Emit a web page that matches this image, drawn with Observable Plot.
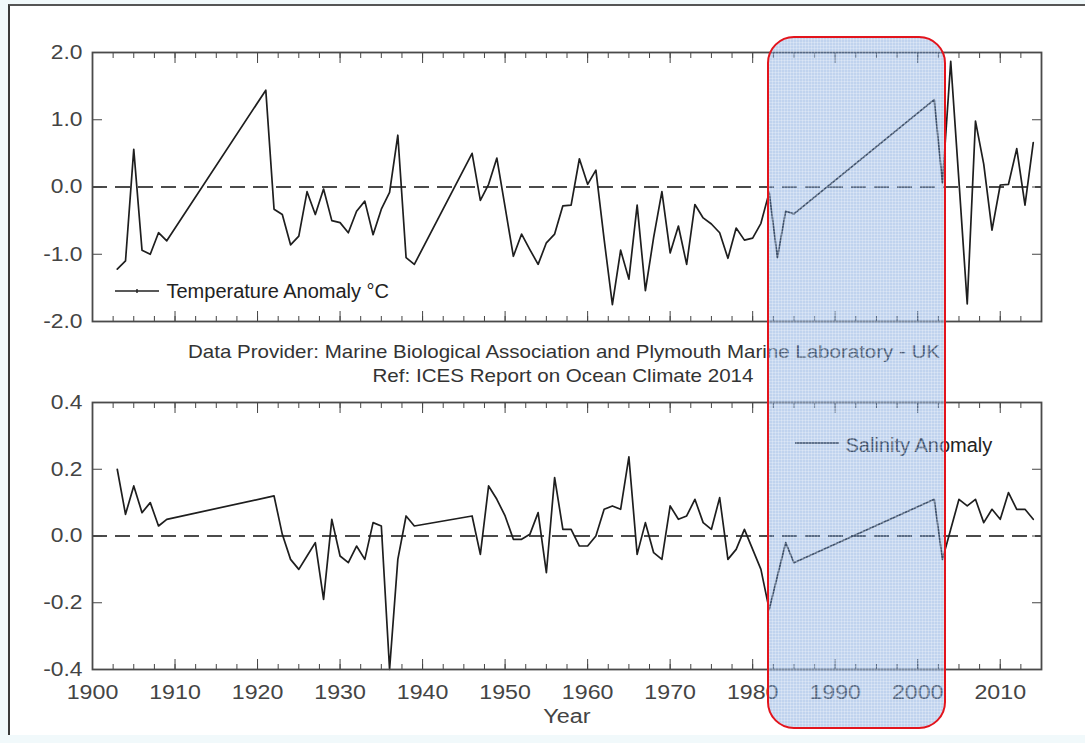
<!DOCTYPE html>
<html><head><meta charset="utf-8">
<script src="https://cdn.jsdelivr.net/npm/d3@7"></script>
<script src="https://cdn.jsdelivr.net/npm/@observablehq/plot@0.6"></script>
<style>
html,body{margin:0;padding:0;width:1085px;height:743px;overflow:hidden;background:#f1f9fb;font-family:"Liberation Sans",Arial,Helvetica,sans-serif;}
#page{position:absolute;left:8px;top:4px;width:1077px;height:729px;background:#fff;border-left:2px solid #3a3a3a;border-top:2px solid #555;}
.abs{position:absolute;left:0;}
#topChart{top:30px;}
#botChart{top:380px;}
#titles{position:absolute;left:0;top:330px;}
#hl{position:absolute;top:36px;height:689px;border:2px solid #e3141c;border-radius:27px;
  background-color:rgba(105,150,215,0.42);
  background-image:repeating-linear-gradient(0deg,rgba(255,255,255,0.25) 0 1px,transparent 1px 3px),repeating-linear-gradient(90deg,rgba(255,255,255,0.25) 0 1px,transparent 1px 3px);
  pointer-events:none;z-index:5;}
</style>
</head><body>
<div id="page"></div>
<div id="topChart" class="abs"></div>
<svg id="titles" width="1085" height="60"></svg>
<div id="botChart" class="abs"></div>
<div id="hl"></div>
<script>
// ---------- data ----------
const tempYears = [1903,1904,1905,1906,1907,1908,1909,
  1921,1922,1923,1924,1925,1926,1927,1928,1929,1930,1931,1932,1933,1934,1935,1936,1937,1938,1939,
  1946,1947,1948,1949,1950,1951,1952,1953,1954,1955,1956,1957,1958,1959,1960,1961,1962,1963,1964,1965,
  1966,1967,1968,1969,1970,1971,1972,1973,1974,1975,1976,1977,1978,1979,1980,1981,1982,1983,1984,1985,
  2002,2003,2004,2005,2006,2007,2008,2009,2010,2011,2012,2013,2014];
const tempValues = [-1.22,-1.10,0.56,-0.94,-1.00,-0.68,-0.80,
  1.44,-0.33,-0.41,-0.86,-0.73,-0.07,-0.41,-0.03,-0.50,-0.53,-0.68,-0.36,-0.21,-0.71,-0.33,-0.08,0.77,-1.05,-1.15,
  0.50,-0.20,0.04,0.43,-0.30,-1.03,-0.70,-0.93,-1.15,-0.83,-0.70,-0.28,-0.27,0.42,0.04,0.25,-0.78,-1.75,-0.94,-1.37,
  -0.27,-1.54,-0.75,-0.07,-0.98,-0.58,-1.15,-0.26,-0.46,-0.55,-0.68,-1.06,-0.61,-0.79,-0.76,-0.54,-0.08,-1.05,-0.36,-0.40,
  1.30,0.06,1.87,0.08,-1.74,0.98,0.34,-0.64,0.03,0.04,0.57,-0.27,0.66];

const salYears = [1903,1904,1905,1906,1907,1908,1909,
  1922,1923,1924,1925,1926,1927,1928,1929,1930,1931,1932,1933,1934,1935,1936,1937,1938,1939,
  1946,1947,1948,1949,1950,1951,1952,1953,1954,1955,1956,1957,1958,1959,1960,1961,1962,1963,1964,1965,
  1966,1967,1968,1969,1970,1971,1972,1973,1974,1975,1976,1977,1978,1979,1980,1981,1982,1983,1984,1985,
  2002,2003,2004,2005,2006,2007,2008,2009,2010,2011,2012,2013,2014];
const salValues = [0.20,0.065,0.15,0.07,0.10,0.03,0.05,
  0.12,0.005,-0.07,-0.10,-0.06,-0.02,-0.19,0.05,-0.06,-0.08,-0.03,-0.07,0.04,0.03,-0.40,-0.07,0.06,0.03,
  0.06,-0.055,0.15,0.11,0.06,-0.01,-0.01,0.005,0.07,-0.11,0.175,0.02,0.02,-0.03,-0.03,0.00,0.08,0.09,0.08,0.237,
  -0.055,0.04,-0.05,-0.07,0.09,0.05,0.06,0.11,0.04,0.02,0.115,-0.07,-0.04,0.02,-0.04,-0.10,-0.22,-0.12,-0.02,-0.08,
  0.11,-0.07,0.02,0.11,0.09,0.11,0.04,0.08,0.05,0.13,0.08,0.08,0.05];

const xDomain = [1900, 2015];
const yearTicks = [1900,1910,1920,1930,1940,1950,1960,1970,1980,1990,2000,2010];
const minorYearTicks = d3.range(1900, 2015, 2.5);
const tempDomain = [-2, 2];
const tempTicks = [-2, -1, 0, 1, 2];
const salDomain = [-0.4, 0.4];
const salTicks = [-0.4, -0.2, 0, 0.2, 0.4];
const tempLabel = "Temperature Anomaly °C";
const salLabel = "Salinity Anomaly";
const titleLines = ["Data Provider: Marine Biological Association and Plymouth Marine Laboratory - UK",
                    "Ref: ICES Report on Ocean Climate 2014"];
const xTitle = "Year";
const highlightYears = [1981.93, 2003.35];

const temp = tempYears.map((y, i) => ({year: y, value: tempValues[i]}));
const sal = salYears.map((y, i) => ({year: y, value: salValues[i]}));

const FONT = '"Liberation Sans", Arial, Helvetica, sans-serif';
const INK = "#1e1e1e";
const AXIS = "#454545";

function frameTicks(yTicks) {
  return [
    Plot.axisX({anchor: "bottom", ticks: minorYearTicks, tickSize: 5, dy: -5, tickFormat: () => "", stroke: AXIS}),
    Plot.axisX({anchor: "bottom", ticks: yearTicks, tickSize: 10, dy: -10, tickFormat: () => "", stroke: AXIS}),
    Plot.axisX({anchor: "top", ticks: minorYearTicks, tickSize: 5, dy: 5, tickFormat: () => "", stroke: AXIS}),
    Plot.axisX({anchor: "top", ticks: yearTicks, tickSize: 10, dy: 10, tickFormat: () => "", stroke: AXIS}),
    Plot.axisY({anchor: "left", ticks: yTicks, tickSize: 10, dx: 10, tickFormat: () => "", stroke: AXIS}),
    Plot.axisY({anchor: "right", ticks: yTicks, tickSize: 10, dx: -10, tickFormat: () => "", stroke: AXIS})
  ];
}

// widen glyphs a little, as in the reference's typeface
function stretch(svgNode, selector, factor) {
  d3.select(svgNode).selectAll(selector).each(function () {
    const L = this.getComputedTextLength();
    if (L > 0) {
      this.setAttribute("textLength", (L * factor).toFixed(1));
      this.setAttribute("lengthAdjust", "spacingAndGlyphs");
    }
  });
}

// ---------- top panel ----------
const topPlot = Plot.plot({
  width: 1085, height: 301,
  marginLeft: 92, marginRight: 44, marginTop: 22, marginBottom: 10,
  x: {domain: xDomain, label: null},
  y: {domain: tempDomain, label: null},
  style: {background: "transparent", fontFamily: FONT, color: "#444", overflow: "visible"},
  marks: [
    Plot.ruleY([0], {stroke: "#111", strokeWidth: 1.6, strokeDasharray: "15,8"}),
    Plot.line(temp, {x: "year", y: "value", stroke: INK, strokeWidth: 1.7}),
    ...frameTicks(tempTicks),
    Plot.axisY({anchor: "left", ticks: tempTicks, tickSize: 0, tickPadding: 10, fontSize: 20, tickFormat: d => d.toFixed(1)}),
    Plot.text([tempLabel], {text: d => d, frameAnchor: "bottom-left", textAnchor: "start", lineAnchor: "middle", dx: 74, dy: -30, fontSize: 20, fill: "#222"}),
    Plot.frame({stroke: "#4a4a4a", strokeWidth: 1.8})
  ]
});
{
  const g = d3.select(topPlot).append("g");
  g.append("line").attr("x1", 115).attr("x2", 159).attr("y1", 261).attr("y2", 261).attr("stroke", "#222").attr("stroke-width", 1.4);
  g.append("line").attr("x1", 137).attr("x2", 137).attr("y1", 259).attr("y2", 263).attr("stroke", "#222").attr("stroke-width", 1.4);
}
document.getElementById("topChart").append(topPlot);
stretch(topPlot, 'g[aria-label="y-axis tick label"] text', 1.14);

// ---------- bottom panel ----------
const botPlot = Plot.plot({
  width: 1085, height: 349,
  marginLeft: 92, marginRight: 44, marginTop: 22, marginBottom: 60,
  x: {domain: xDomain, label: null},
  y: {domain: salDomain, label: null},
  style: {background: "transparent", fontFamily: FONT, color: "#444", overflow: "visible"},
  marks: [
    Plot.ruleY([0], {stroke: "#111", strokeWidth: 1.6, strokeDasharray: "15,8"}),
    Plot.line(sal, {x: "year", y: "value", stroke: INK, strokeWidth: 1.7}),
    ...frameTicks(salTicks),
    Plot.axisY({anchor: "left", ticks: salTicks, tickSize: 0, tickPadding: 10, fontSize: 20, tickFormat: d => d.toFixed(1)}),
    Plot.axisX({anchor: "bottom", ticks: yearTicks, tickSize: 0, tickPadding: 15, fontSize: 20, tickFormat: d => String(d)}),
    Plot.text([xTitle], {text: d => d, frameAnchor: "bottom", lineAnchor: "middle", dy: 47, fontSize: 20, fill: "#444"}),
    Plot.text([salLabel], {text: d => d, frameAnchor: "top-left", textAnchor: "start", lineAnchor: "middle", dx: 753, dy: 43, fontSize: 20, fill: "#222"}),
    Plot.frame({stroke: "#4a4a4a", strokeWidth: 1.8})
  ]
});
d3.select(botPlot).append("line").attr("x1", 795).attr("x2", 839).attr("y1", 63).attr("y2", 63).attr("stroke", "#222").attr("stroke-width", 1.4);
document.getElementById("botChart").append(botPlot);
stretch(botPlot, 'g[aria-label="y-axis tick label"] text', 1.14);
stretch(botPlot, 'g[aria-label="x-axis tick label"] text', 1.16);
d3.select(botPlot).selectAll('g[aria-label="text"] text').filter(function () { return this.textContent === xTitle; })
  .each(function () { const L = this.getComputedTextLength(); this.setAttribute("textLength", (L * 1.17).toFixed(1)); this.setAttribute("lengthAdjust", "spacingAndGlyphs"); });

// ---------- titles between panels ----------
{
  const t = d3.select("#titles");
  const specs = [[titleLines[0], 564, 28, 752], [titleLines[1], 563, 52, 381]];
  for (const [txt, cx, by, len] of specs) {
    t.append("text").attr("x", cx).attr("y", by).attr("text-anchor", "middle")
      .attr("font-family", FONT).attr("font-size", 19).attr("fill", "#333")
      .attr("textLength", len).attr("lengthAdjust", "spacingAndGlyphs").text(txt);
  }
}

// ---------- highlight box (positioned through the x scale) ----------
{
  const xs = topPlot.scale("x");
  const x0 = xs.apply(highlightYears[0]);
  const x1 = xs.apply(highlightYears[1]);
  const hl = document.getElementById("hl");
  hl.style.left = (x0 - 1) + "px";
  hl.style.width = (x1 - x0 - 2) + "px";
}
</script>
</body></html>
